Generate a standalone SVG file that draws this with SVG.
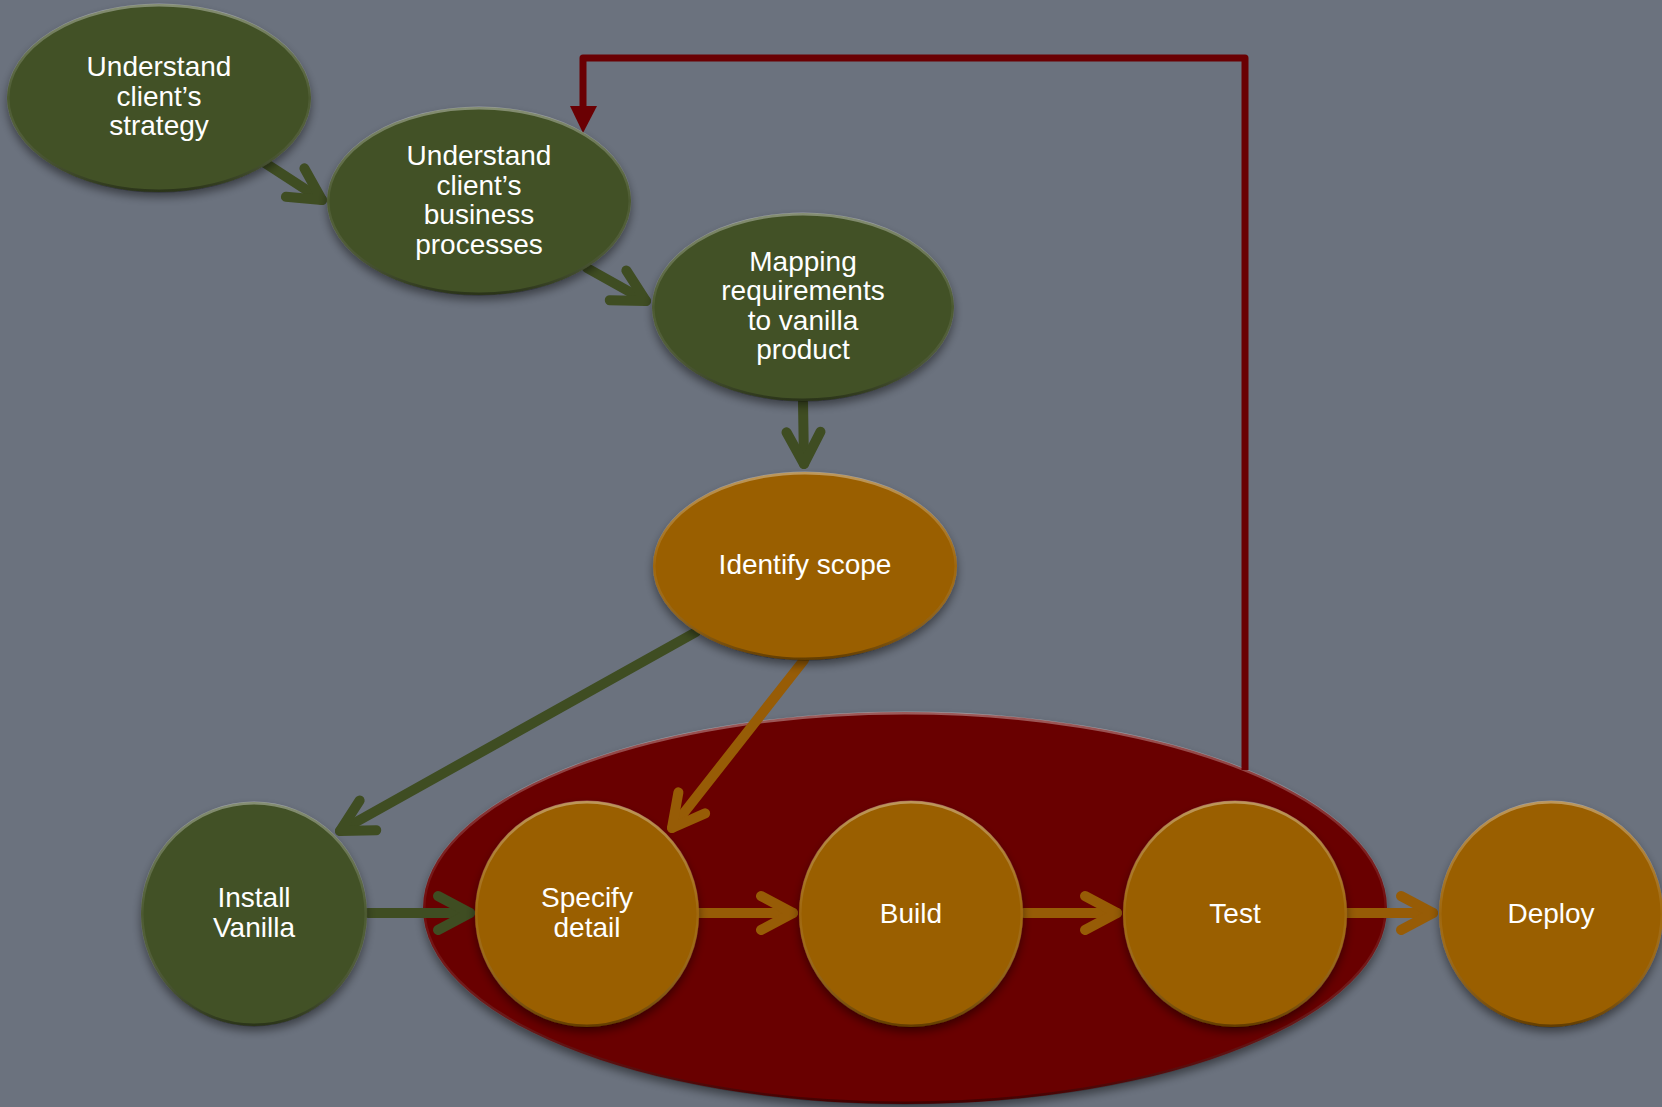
<svg xmlns="http://www.w3.org/2000/svg" width="1662" height="1107" viewBox="0 0 1662 1107">
<style>
.green{fill:#435126}
.orange{fill:#9a5f05}
.red{fill:#690405}
.node{filter:url(#shadow)}
.bevel{fill:none;stroke:url(#bev);stroke-width:3}
.lbl{font-family:"Liberation Sans",Arial,sans-serif;font-size:28px;fill:#ffffff;text-anchor:middle}
.ga{fill:none;stroke:#3f4d22;stroke-width:10;stroke-linecap:round;stroke-linejoin:round}
.oa{fill:none;stroke:#975c06;stroke-width:10;stroke-linecap:round;stroke-linejoin:round}
</style>
<defs>
<filter id="shadow" x="-20%" y="-20%" width="140%" height="150%">
<feDropShadow dx="0" dy="5" stdDeviation="5" flood-color="#000" flood-opacity="0.45"/>
</filter>
<linearGradient id="bev" x1="0" y1="0" x2="0" y2="1">
<stop offset="0" stop-color="#ffffff" stop-opacity="0.35"/>
<stop offset="0.5" stop-color="#ffffff" stop-opacity="0.05"/>
<stop offset="1" stop-color="#000000" stop-opacity="0.35"/>
</linearGradient>
<marker id="gh" markerUnits="userSpaceOnUse" viewBox="-45 -30 55 60" refX="0" refY="0" markerWidth="55" markerHeight="60" orient="auto" overflow="visible">
<path d="M-32,-17 L0,0 L-32,17" fill="none" stroke="#3f4d22" stroke-width="10" stroke-linecap="round" stroke-linejoin="round"/>
</marker>
<marker id="oh" markerUnits="userSpaceOnUse" viewBox="-45 -30 55 60" refX="0" refY="0" markerWidth="55" markerHeight="60" orient="auto" overflow="visible">
<path d="M-32,-17 L0,0 L-32,17" fill="none" stroke="#975c06" stroke-width="10" stroke-linecap="round" stroke-linejoin="round"/>
</marker>
</defs>
<rect width="1662" height="1107" fill="#6b727e"/>

<g id="iteration-loop">
<ellipse class="red node" cx="905" cy="908" rx="482" ry="196"/>
<ellipse class="bevel" cx="905" cy="908" rx="481" ry="195"/>
</g>

<g id="connectors">
<path d="M1245,770 V58 H583 V108" fill="none" stroke="#6a0003" stroke-width="7" stroke-linejoin="round"/>
<polygon points="570,106 597,106 583,133" fill="#6a0003"/>
<line class="ga" x1="265" y1="163" x2="322" y2="200" marker-end="url(#gh)"/>
<line class="ga" x1="587" y1="268" x2="646" y2="301" marker-end="url(#gh)"/>
<line class="ga" x1="803" y1="402" x2="804" y2="464" marker-end="url(#gh)"/>
<line class="ga" x1="696" y1="632" x2="340" y2="831" marker-end="url(#gh)"/>
<line class="oa" x1="804" y1="660" x2="672" y2="828" marker-end="url(#oh)"/>
<line class="ga" x1="368" y1="913" x2="470" y2="913" marker-end="url(#gh)"/>
<line class="oa" x1="699" y1="913" x2="793" y2="913" marker-end="url(#oh)"/>
<line class="oa" x1="1024" y1="913" x2="1117" y2="913" marker-end="url(#oh)"/>
<line class="oa" x1="1347" y1="913" x2="1433" y2="913" marker-end="url(#oh)"/>
</g>

<g id="strategy">
<ellipse class="green node" cx="159" cy="98" rx="152" ry="94"/>
<ellipse class="bevel" cx="159" cy="98" rx="151" ry="93"/>
<text class="lbl" x="159" y="76">Understand</text>
<text class="lbl" x="159" y="106">client’s</text>
<text class="lbl" x="159" y="135">strategy</text>
</g>

<g id="business">
<ellipse class="green node" cx="479" cy="201" rx="152" ry="94"/>
<ellipse class="bevel" cx="479" cy="201" rx="151" ry="93"/>
<text class="lbl" x="479" y="165">Understand</text>
<text class="lbl" x="479" y="195">client’s</text>
<text class="lbl" x="479" y="224">business</text>
<text class="lbl" x="479" y="254">processes</text>
</g>

<g id="mapping">
<ellipse class="green node" cx="803" cy="307" rx="151" ry="94"/>
<ellipse class="bevel" cx="803" cy="307" rx="150" ry="93"/>
<text class="lbl" x="803" y="271">Mapping</text>
<text class="lbl" x="803" y="300">requirements</text>
<text class="lbl" x="803" y="330">to vanilla</text>
<text class="lbl" x="803" y="359">product</text>
</g>

<g id="scope">
<ellipse class="orange node" cx="805" cy="566" rx="152" ry="94"/>
<ellipse class="bevel" cx="805" cy="566" rx="151" ry="93"/>
<text class="lbl" x="805" y="574">Identify scope</text>
</g>

<g id="install">
<ellipse class="green node" cx="254" cy="914" rx="113" ry="112"/>
<ellipse class="bevel" cx="254" cy="914" rx="112" ry="111"/>
<text class="lbl" x="254" y="907">Install</text>
<text class="lbl" x="254" y="937">Vanilla</text>
</g>

<g id="specify">
<ellipse class="orange node" cx="587" cy="914" rx="112" ry="113"/>
<ellipse class="bevel" cx="587" cy="914" rx="111" ry="112"/>
<text class="lbl" x="587" y="907">Specify</text>
<text class="lbl" x="587" y="937">detail</text>
</g>

<g id="build">
<ellipse class="orange node" cx="911" cy="914" rx="112" ry="113"/>
<ellipse class="bevel" cx="911" cy="914" rx="111" ry="112"/>
<text class="lbl" x="911" y="923">Build</text>
</g>

<g id="test">
<ellipse class="orange node" cx="1235" cy="914" rx="112" ry="113"/>
<ellipse class="bevel" cx="1235" cy="914" rx="111" ry="112"/>
<text class="lbl" x="1235" y="923">Test</text>
</g>

<g id="deploy">
<ellipse class="orange node" cx="1551" cy="914" rx="112" ry="113"/>
<ellipse class="bevel" cx="1551" cy="914" rx="111" ry="112"/>
<text class="lbl" x="1551" y="923">Deploy</text>
</g>
</svg>
